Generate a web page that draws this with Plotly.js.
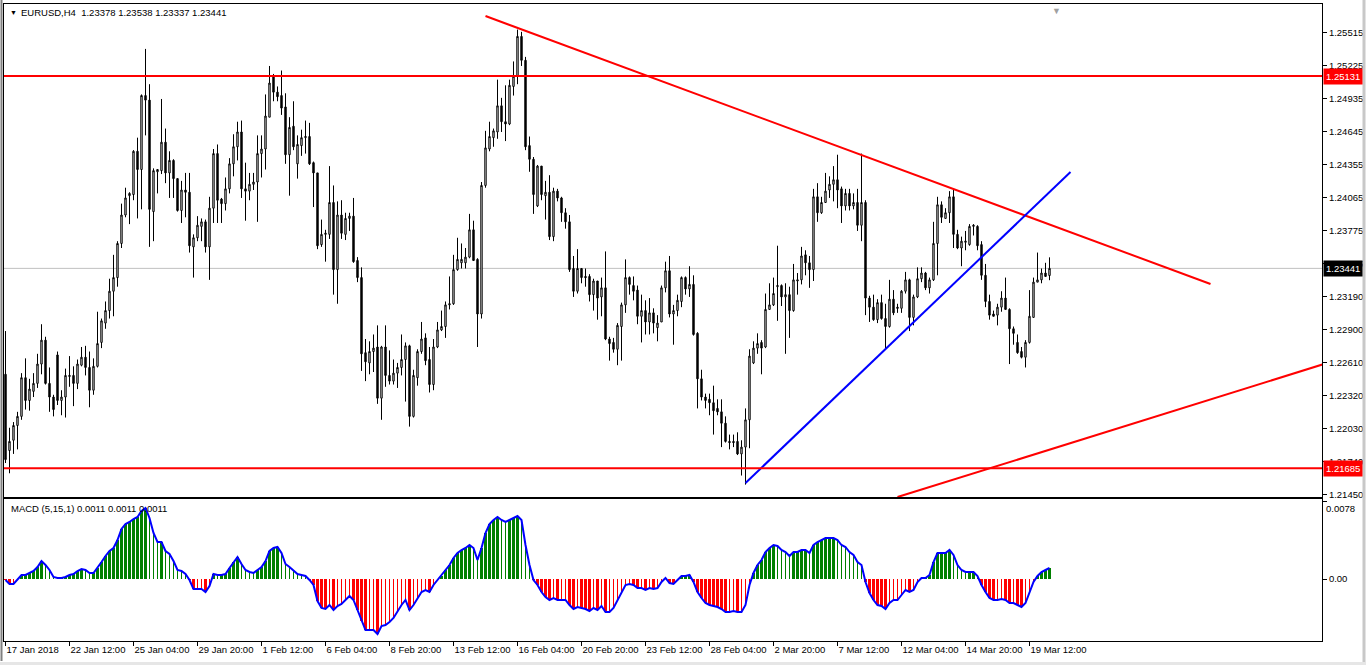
<!DOCTYPE html>
<html><head><meta charset="utf-8">
<script src="https://cdn.plot.ly/plotly-3.0.1.min.js"></script>
<style>html,body{margin:0;padding:0;background:#fff;overflow:hidden}#chart{width:1366px;height:665px}</style>
</head><body><div id="chart"></div>
<script>
const symbolTitle = "EURUSD,H4  1.23378 1.23538 1.23337 1.23441";
const macdTitle = "MACD (5,15,1) 0.0011 0.0011 0.0011";

const opens = [
1.2251,1.2184,1.2193,1.2206,1.2214,1.2248,1.2228,1.2236,1.2243,1.2260,
1.2281,1.2243,1.2231,1.2268,1.2228,1.2231,1.2249,1.2250,1.2243,1.2259,
1.2266,1.2257,1.2237,1.2258,1.2279,1.2296,1.2307,1.2324,1.2336,1.2366,
1.2391,1.2408,1.2409,1.2447,1.2431,1.2496,1.2492,1.2394,1.2429,1.2430,
1.2455,1.2428,1.2439,1.2423,1.2395,1.2413,1.2411,1.2363,1.2371,1.2381,
1.2385,1.2363,1.2397,1.2445,1.2405,1.2401,1.2414,1.2436,1.2451,1.2464,
1.2414,1.2412,1.2418,1.2420,1.2445,1.2449,1.2477,1.2513,1.2499,1.2496,
1.2486,1.2444,1.2469,1.2436,1.2452,1.2459,1.2460,1.2437,1.2428,1.2365,
1.2374,1.2374,1.2402,1.2343,1.2391,1.2374,1.2388,1.2390,1.2351,1.2336,
1.2270,1.2261,1.2271,1.2275,1.2230,1.2275,1.2250,1.2245,1.2252,1.2257,
1.2264,1.2276,1.2214,1.2248,1.2271,1.2283,1.2264,1.2242,1.2275,1.2290,
1.2293,1.2312,1.2313,1.2343,1.2349,1.2349,1.2354,1.2378,1.2352,1.2304,
1.2417,1.2449,1.2459,1.2464,1.2487,1.2473,1.2471,1.2504,1.2513,1.2548,
1.2527,1.2452,1.2440,1.2399,1.2434,1.2408,1.2411,1.2372,1.2412,1.2406,
1.2393,1.2385,1.2344,1.2324,1.2344,1.2337,1.2337,1.2321,1.2333,1.2319,
1.2327,1.2282,1.2279,1.2273,1.2293,1.2312,1.2336,1.2329,1.2325,1.2302,
1.2307,1.2297,1.2305,1.2292,1.2297,1.2327,1.2342,1.2304,1.2307,1.2315,
1.2336,1.2326,1.2330,1.2287,1.2247,1.2231,1.2229,1.2226,1.2221,1.2218,
1.2208,1.2192,1.2192,1.2192,1.2181,1.2187,1.2211,1.2261,1.2274,1.2279,
1.2275,1.2308,1.2312,1.2328,1.2329,1.2319,1.2321,1.2307,1.2333,1.2334,
1.2356,1.2349,1.2343,1.2407,1.2393,1.2402,1.2413,1.2418,1.2422,1.2414,
1.2399,1.2410,1.2399,1.2402,1.2382,1.2402,1.2318,1.2310,1.2299,1.2314,
1.2300,1.2293,1.2317,1.2310,1.2309,1.2324,1.2334,1.2301,1.2319,1.2335,
1.2340,1.2327,1.2334,1.2366,1.2400,1.2388,1.2393,1.2407,1.2374,1.2362,
1.2367,1.2365,1.2381,1.2381,1.2365,1.2338,1.2315,1.2304,1.2303,1.2310,
1.2318,1.2308,1.2291,1.2279,1.2271,1.2266,1.2279,1.2301,1.2332,1.2334,
1.2340,1.23378];
const highs = [
1.2289,1.2204,1.2209,1.2218,1.2252,1.2265,1.2247,1.2252,1.2269,1.2295,
1.2284,1.2257,1.2233,1.2271,1.2237,1.2256,1.2267,1.2258,1.2264,1.2275,
1.2276,1.2271,1.2265,1.2306,1.2300,1.2315,1.2335,1.2356,1.2368,1.2401,
1.2415,1.2411,1.2448,1.2459,1.2497,1.2537,1.2506,1.2432,1.2431,1.2493,
1.2467,1.2447,1.2440,1.2423,1.2421,1.2428,1.2428,1.2374,1.2390,1.2388,
1.2387,1.2407,1.2449,1.2453,1.2406,1.2424,1.2441,1.2462,1.2473,1.2474,
1.2437,1.2428,1.2428,1.2461,1.2461,1.2497,1.2522,1.2515,1.2504,1.2518,
1.2498,1.2477,1.2491,1.2461,1.2466,1.2474,1.2472,1.2438,1.2428,1.2387,
1.2378,1.2434,1.2417,1.2403,1.2404,1.2393,1.2393,1.2406,1.2354,1.2345,
1.2282,1.2280,1.2286,1.2294,1.2276,1.2294,1.2272,1.2264,1.2261,1.2286,
1.2279,1.2277,1.2255,1.2273,1.2297,1.2287,1.2275,1.2282,1.2297,1.2307,
1.2315,1.2337,1.2356,1.2371,1.2366,1.2362,1.2392,1.2386,1.2353,1.2420,
1.2465,1.2473,1.2467,1.2510,1.2494,1.2505,1.2510,1.2526,1.2554,1.2552,
1.2530,1.2460,1.2442,1.2435,1.2434,1.2421,1.2426,1.2415,1.2414,1.2407,
1.2397,1.2391,1.2355,1.2361,1.2344,1.2344,1.2339,1.2335,1.2333,1.2336,
1.2359,1.2284,1.2283,1.2296,1.2314,1.2352,1.2337,1.2337,1.2329,1.2321,
1.2316,1.2318,1.2309,1.2303,1.2329,1.2350,1.2355,1.2312,1.2321,1.2337,
1.2337,1.2346,1.2338,1.2288,1.2255,1.2234,1.2234,1.2241,1.2229,1.2229,
1.2214,1.2198,1.2198,1.2200,1.2193,1.2221,1.2273,1.2280,1.2287,1.2281,
1.2322,1.2331,1.2336,1.2364,1.2330,1.2331,1.2328,1.2348,1.2340,1.2363,
1.2360,1.2355,1.2414,1.2419,1.2407,1.2428,1.2425,1.2434,1.2444,1.2416,
1.2414,1.2414,1.2410,1.2414,1.2445,1.2404,1.2320,1.2321,1.2317,1.2321,
1.2313,1.2334,1.2325,1.2313,1.2325,1.2341,1.2335,1.2321,1.2345,1.2345,
1.2341,1.2336,1.2385,1.2407,1.2403,1.2397,1.2412,1.2414,1.2378,1.2372,
1.2377,1.2383,1.2383,1.2382,1.2368,1.2348,1.2321,1.2307,1.2313,1.2324,
1.2336,1.2309,1.2293,1.2286,1.2275,1.2281,1.2325,1.2336,1.2358,1.2344,
1.2349,1.23538];
const lows = [
1.2173,1.2164,1.2181,1.2185,1.2211,1.2220,1.2219,1.2231,1.2239,1.2251,
1.2242,1.2218,1.2214,1.2224,1.2215,1.2213,1.2240,1.2223,1.2238,1.2258,
1.2250,1.2222,1.2233,1.2257,1.2274,1.2291,1.2300,1.2302,1.2328,1.2362,
1.2389,1.2383,1.2404,1.2388,1.2396,1.2461,1.2363,1.2368,1.2410,1.2427,
1.2419,1.2406,1.2406,1.2394,1.2384,1.2389,1.2358,1.2336,1.2368,1.2368,
1.2358,1.2334,1.2384,1.2384,1.2384,1.2395,1.2410,1.2425,1.2439,1.2406,
1.2386,1.2404,1.2413,1.2385,1.2424,1.2431,1.2477,1.2491,1.2491,1.2479,
1.2436,1.2408,1.2448,1.2423,1.2443,1.2445,1.2435,1.2398,1.2361,1.2363,
1.2350,1.2370,1.2321,1.2313,1.2370,1.2369,1.2377,1.2349,1.2332,1.2254,
1.2245,1.2251,1.2253,1.2225,1.2211,1.2240,1.2242,1.2242,1.2239,1.2250,
1.2227,1.2205,1.2213,1.2241,1.2269,1.2259,1.2235,1.2237,1.2274,1.2289,
1.2283,1.2308,1.2312,1.2342,1.2344,1.2344,1.2353,1.2351,1.2275,1.2300,
1.2415,1.2447,1.2451,1.2458,1.2464,1.2456,1.2470,1.2496,1.2506,1.2522,
1.2448,1.2429,1.2392,1.2398,1.2404,1.2387,1.2369,1.2368,1.2403,1.2385,
1.2379,1.2341,1.2319,1.2322,1.2331,1.2328,1.2315,1.2307,1.2299,1.2302,
1.2281,1.2263,1.2270,1.2259,1.2263,1.2305,1.2321,1.2316,1.2295,1.2279,
1.2286,1.2286,1.2287,1.2280,1.2297,1.2323,1.2301,1.2277,1.2302,1.2310,
1.2321,1.2319,1.2285,1.2221,1.2228,1.2221,1.2215,1.2198,1.2215,1.2187,
1.2191,1.2185,1.2187,1.2180,1.2162,1.2154,1.2186,1.2260,1.2269,1.2251,
1.2274,1.2308,1.2311,1.2298,1.2311,1.2269,1.2283,1.2306,1.2321,1.2330,
1.2338,1.2327,1.2333,1.2385,1.2392,1.2402,1.2406,1.2403,1.2397,1.2384,
1.2395,1.2395,1.2396,1.2377,1.2368,1.2303,1.2297,1.2298,1.2296,1.2299,
1.2274,1.2292,1.2303,1.2305,1.2305,1.2322,1.2289,1.2294,1.2318,1.2332,
1.2325,1.2322,1.2333,1.2338,1.2384,1.2388,1.2384,1.2362,1.2361,1.2346,
1.2360,1.2364,1.2373,1.2360,1.2334,1.2310,1.2299,1.2302,1.2294,1.2306,
1.2308,1.2260,1.2277,1.2269,1.2265,1.2257,1.2278,1.2301,1.2332,1.2331,
1.2337,1.23337];
const closes = [
1.2176,1.2192,1.2206,1.2214,1.2248,1.2228,1.2238,1.2243,1.2260,1.2281,
1.2243,1.2231,1.2220,1.2228,1.2231,1.2250,1.2250,1.2243,1.2260,1.2266,
1.2257,1.2237,1.2258,1.2278,1.2298,1.2307,1.2324,1.2336,1.2366,1.2391,
1.2406,1.2410,1.2447,1.2431,1.2496,1.2492,1.2396,1.2430,1.2431,1.2455,
1.2428,1.2439,1.2423,1.2395,1.2413,1.2411,1.2364,1.2371,1.2382,1.2385,
1.2363,1.2397,1.2445,1.2404,1.2401,1.2414,1.2436,1.2451,1.2464,1.2414,
1.2412,1.2418,1.2420,1.2445,1.2449,1.2478,1.2507,1.2499,1.2495,1.2485,
1.2444,1.2468,1.2451,1.2453,1.2459,1.2460,1.2436,1.2428,1.2364,1.2374,
1.2375,1.2402,1.2343,1.2391,1.2375,1.2388,1.2390,1.2350,1.2336,1.2269,
1.2262,1.2271,1.2274,1.2230,1.2275,1.2250,1.2245,1.2252,1.2257,1.2264,
1.2276,1.2214,1.2250,1.2271,1.2282,1.2263,1.2242,1.2275,1.2290,1.2293,
1.2312,1.2313,1.2343,1.2352,1.2352,1.2354,1.2378,1.2351,1.2304,1.2417,
1.2450,1.2460,1.2465,1.2487,1.2473,1.2471,1.2505,1.2513,1.2548,1.2527,
1.2451,1.2440,1.2409,1.2434,1.2409,1.2411,1.2372,1.2412,1.2406,1.2393,
1.2385,1.2343,1.2324,1.2344,1.2336,1.2336,1.2321,1.2333,1.2318,1.2327,
1.2282,1.2278,1.2273,1.2294,1.2312,1.2336,1.2330,1.2324,1.2302,1.2307,
1.2297,1.2305,1.2296,1.2296,1.2327,1.2342,1.2304,1.2307,1.2316,1.2336,
1.2326,1.2330,1.2286,1.2247,1.2231,1.2228,1.2226,1.2219,1.2218,1.2208,
1.2192,1.2191,1.2191,1.2181,1.2187,1.2211,1.2267,1.2274,1.2278,1.2274,
1.2308,1.2312,1.2322,1.2329,1.2319,1.2321,1.2307,1.2334,1.2334,1.2355,
1.2349,1.2343,1.2407,1.2393,1.2402,1.2412,1.2418,1.2422,1.2413,1.2399,
1.2410,1.2399,1.2402,1.2382,1.2402,1.2318,1.2310,1.2299,1.2314,1.2300,
1.2293,1.2317,1.2305,1.2309,1.2324,1.2334,1.2301,1.2319,1.2335,1.2340,
1.2327,1.2334,1.2366,1.2400,1.2389,1.2393,1.2407,1.2374,1.2362,1.2368,
1.2368,1.2381,1.2382,1.2364,1.2338,1.2315,1.2303,1.2302,1.2310,1.2318,
1.2308,1.2291,1.2287,1.2270,1.2266,1.2279,1.2302,1.2332,1.2334,1.2340,
1.2337,1.23441];
const macd = [
-0.0001,-0.0005,-0.0005,-0.0001,0.0004,0.0004,0.0006,0.0008,0.0012,0.0018,
0.0014,0.0009,0.0002,0.0001,0.0001,0.0002,0.0004,0.0005,0.0008,0.0010,
0.0009,0.0006,0.0006,0.0011,0.0017,0.0023,0.0028,0.0031,0.0039,0.0050,
0.0055,0.0057,0.0060,0.0062,0.0068,0.0071,0.0061,0.0046,0.0037,0.0037,
0.0028,0.0025,0.0018,0.0009,0.0008,0.0005,-0.0001,-0.0010,-0.0010,-0.0010,
-0.0013,-0.0007,0.0005,0.0004,0.0004,0.0005,0.0011,0.0017,0.0022,0.0015,
0.0009,0.0007,0.0006,0.0009,0.0012,0.0018,0.0028,0.0031,0.0032,0.0026,
0.0015,0.0012,0.0008,0.0005,0.0004,0.0003,-0.0001,-0.0006,-0.0022,-0.0029,
-0.0030,-0.0026,-0.0031,-0.0027,-0.0025,-0.0021,-0.0017,-0.0021,-0.0031,-0.0042,
-0.0051,-0.0051,-0.0051,-0.0055,-0.0047,-0.0046,-0.0043,-0.0039,-0.0032,-0.0026,
-0.0021,-0.0031,-0.0026,-0.0019,-0.0013,-0.0011,-0.0013,-0.0006,-0.0001,0.0003,
0.0009,0.0014,0.0021,0.0026,0.0029,0.0031,0.0034,0.0031,0.0019,0.0031,
0.0046,0.0055,0.0059,0.0062,0.0059,0.0057,0.0059,0.0061,0.0063,0.0059,
0.0034,0.0014,-0.0001,-0.0006,-0.0013,-0.0018,-0.0021,-0.0019,-0.0021,-0.0021,
-0.0021,-0.0026,-0.0030,-0.0028,-0.0029,-0.0030,-0.0032,-0.0029,-0.0031,-0.0027,
-0.0033,-0.0033,-0.0029,-0.0021,-0.0013,-0.0006,-0.0005,-0.0006,-0.0009,-0.0009,
-0.0011,-0.0009,-0.0010,-0.0009,-0.0003,0.0001,-0.0004,-0.0005,-0.0001,0.0003,
0.0003,0.0004,-0.0003,-0.0013,-0.0019,-0.0024,-0.0026,-0.0027,-0.0028,-0.0030,
-0.0033,-0.0033,-0.0032,-0.0033,-0.0033,-0.0026,-0.0006,0.0006,0.0014,0.0019,
0.0027,0.0031,0.0034,0.0033,0.0029,0.0027,0.0023,0.0027,0.0027,0.0029,
0.0029,0.0026,0.0034,0.0037,0.0039,0.0041,0.0041,0.0041,0.0039,0.0034,
0.0032,0.0027,0.0024,0.0017,0.0014,-0.0003,-0.0014,-0.0021,-0.0026,-0.0027,
-0.0030,-0.0024,-0.0021,-0.0021,-0.0016,-0.0011,-0.0013,-0.0011,-0.0003,0.0001,
0.0001,0.0004,0.0017,0.0026,0.0026,0.0026,0.0029,0.0024,0.0014,0.0009,
0.0007,0.0007,0.0007,0.0003,-0.0006,-0.0013,-0.0019,-0.0021,-0.0021,-0.0020,
-0.0021,-0.0024,-0.0024,-0.0026,-0.0028,-0.0024,-0.0013,-0.0003,0.0003,0.0007,
0.0009,0.0011];

const tickBars = [0,16,32,48,64,80,96,112,128,144,160,176,192,208,224,240,256];
const tickLabels = ["17 Jan 2018","22 Jan 12:00","25 Jan 04:00","29 Jan 20:00","1 Feb 12:00","6 Feb 04:00","8 Feb 20:00","13 Feb 12:00","16 Feb 04:00","20 Feb 20:00","23 Feb 12:00","28 Feb 04:00","2 Mar 20:00","7 Mar 12:00","12 Mar 04:00","14 Mar 20:00","19 Mar 12:00"];
const priceTicks = [1.25515,1.25225,1.24935,1.24645,1.24355,1.24065,1.23775,1.23485,1.23190,1.22900,1.22610,1.22320,1.22030,1.21740,1.21450];
const priceTickText = ["1.25515","1.25225","1.24935","1.24645","1.24355","1.24065","1.23775","1.23485","1.23190","1.22900","1.22610","1.22320","1.22030","1.21740","1.21450"];
const macdScale = [0.0078, 0, -0.0063];
const macdScaleText = ["0.0078", "0.00", "-0.0063"];
const levelHigh = 1.25131, levelLow = 1.21685, lastPrice = 1.23441;
const trendDownX = [120, 301.25], trendDownY = [1.25659, 1.23304];
const trendUpX = [185, 266.25], trendUpY = [1.21554, 1.24288];
const trendLowX = [223, 340], trendLowY = [1.21431, 1.22714];

// geometry
const FW = 1366, FH = 665, PL = 4, PR = 1322, PT = 4, PB = 641;
const PW = PR - PL, PH = PB - PT;
const px = v => (v - PL) / PW;
const py = v => (PB - v) / PH;
const xr = [-0.375, -0.375 + PW / 4];

const idx = opens.map((_, i) => i);
const barColor = [], barWidth = [];
macd.forEach((v, i) => {
  const prev = i ? macd[i - 1] : 0;
  const up = v >= prev;
  const thick = v >= 0 ? up : !up;
  barColor.push(v >= 0 ? '#008000' : '#ff0000');
  barWidth.push(thick ? 0.75 : 0.25);
});

const FONT = 'Liberation Sans, Arial, sans-serif';
const traces = [
  {type: 'candlestick', x: idx, open: opens, high: highs, low: lows, close: closes,
   xaxis: 'x', yaxis: 'y', whiskerwidth: 0, hoverinfo: 'skip',
   increasing: {line: {color: '#000', width: 1}, fillcolor: '#fff'},
   decreasing: {line: {color: '#000', width: 1}, fillcolor: '#000'}},
  {type: 'scatter', mode: 'lines', x: trendDownX, y: trendDownY, xaxis: 'x', yaxis: 'y', line: {color: '#ff0000', width: 2}, hoverinfo: 'skip'},
  {type: 'scatter', mode: 'lines', x: trendUpX, y: trendUpY, xaxis: 'x', yaxis: 'y', line: {color: '#0000ff', width: 2}, hoverinfo: 'skip'},
  {type: 'scatter', mode: 'lines', x: trendLowX, y: trendLowY, xaxis: 'x', yaxis: 'y', line: {color: '#ff0000', width: 2}, hoverinfo: 'skip'},
  {type: 'bar', x: idx, y: macd, width: barWidth, marker: {color: barColor, line: {width: 0}}, xaxis: 'x2', yaxis: 'y2', hoverinfo: 'skip'},
  {type: 'scatter', mode: 'lines', x: idx, y: macd, xaxis: 'x2', yaxis: 'y2', line: {color: '#0000ff', width: 2}, hoverinfo: 'skip'}
];

const axBase = {showgrid: false, zeroline: false, showline: true, mirror: true, linecolor: '#000', linewidth: 1, fixedrange: true, automargin: false};
const layout = {
  width: FW, height: FH, margin: {l: PL, r: FW - PR, t: PT, b: FH - PB, pad: 0},
  paper_bgcolor: '#fff', plot_bgcolor: '#fff', showlegend: false, boxgap: 0.5, bargap: 0,
  font: {family: FONT, size: 9.5, color: '#000'},
  xaxis: Object.assign({}, axBase, {domain: [0, 1], anchor: 'y', range: xr, showticklabels: false, ticks: '', rangeslider: {visible: false}, type: 'linear'}),
  yaxis: Object.assign({}, axBase, {domain: [py(497), 1], anchor: 'x', side: 'right', range: [1.2580 - 0.0000879 * 497, 1.2580 - 0.0000879 * 4],
    tickvals: priceTicks, ticktext: priceTickText, ticks: 'outside', ticklen: 4, tickcolor: '#000', tickfont: {family: FONT, size: 9.5}}),
  xaxis2: Object.assign({}, axBase, {domain: [0, 1], anchor: 'y2', range: xr, type: 'linear', tickvals: tickBars, ticktext: tickLabels,
    tickangle: 0, ticks: 'outside', ticklen: 4, tickcolor: '#000', ticklabelposition: 'outside right', tickfont: {family: FONT, size: 9.5}}),
  yaxis2: Object.assign({}, axBase, {domain: [0, py(499)], anchor: 'x2', side: 'right', range: [-0.0062, 0.0080],
    tickvals: macdScale, ticktext: ['', '0.00', ''], ticks: 'outside', ticklen: 4, tickcolor: '#000', tickfont: {family: FONT, size: 9.5}}),
  shapes: [
    {type: 'line', xref: 'paper', yref: 'y', x0: 0, x1: 1, y0: lastPrice, y1: lastPrice, line: {color: '#c0c0c0', width: 1}, layer: 'below'},
    {type: 'line', xref: 'paper', yref: 'y', x0: 0, x1: 1, y0: levelHigh, y1: levelHigh, line: {color: '#ff0000', width: 2}, layer: 'above'},
    {type: 'line', xref: 'paper', yref: 'y', x0: 0, x1: 1, y0: levelLow, y1: levelLow, line: {color: '#ff0000', width: 2}, layer: 'above'},
    {type: 'line', xref: 'paper', yref: 'paper', x0: px(1.5), x1: px(1.5), y0: py(0), y1: py(661), line: {color: '#808080', width: 2}},
    {type: 'line', xref: 'paper', yref: 'paper', x0: px(1364), x1: px(1364), y0: py(0), y1: py(665), line: {color: '#c8c8c8', width: 3}},
    {type: 'rect', xref: 'paper', yref: 'paper', x0: px(0), x1: px(1366), y0: py(662), y1: py(665), fillcolor: '#e6e6e6', line: {width: 0}}
  ],
  annotations: [
    {xref: 'paper', yref: 'paper', x: px(8), y: py(13), xanchor: 'left', yanchor: 'middle', showarrow: false, text: '▼', font: {family: FONT, size: 7, color: '#000'}},
    {xref: 'paper', yref: 'paper', x: px(19), y: py(13), xanchor: 'left', yanchor: 'middle', showarrow: false, text: symbolTitle, font: {family: FONT, size: 9.5, color: '#000'}},
    {xref: 'paper', yref: 'paper', x: px(9), y: py(508), xanchor: 'left', yanchor: 'middle', showarrow: false, text: macdTitle, font: {family: FONT, size: 9.5, color: '#000'}},
    {xref: 'paper', yref: 'y2', x: 1, y: macdScale[0], xanchor: 'left', yanchor: 'top', xshift: 2, showarrow: false, text: macdScaleText[0], font: {family: FONT, size: 9.5, color: '#000'}},
    {xref: 'paper', yref: 'y2', x: 1, y: macdScale[2], xanchor: 'left', yanchor: 'bottom', xshift: 2, showarrow: false, text: macdScaleText[2], font: {family: FONT, size: 9.5, color: '#000'}},
    {xref: 'paper', yref: 'y', x: 1, y: levelHigh, xanchor: 'left', yanchor: 'middle', xshift: 1, showarrow: false, text: levelHigh.toFixed(5), bgcolor: '#ff0000', borderpad: 2, font: {family: FONT, size: 9.5, color: '#fff'}},
    {xref: 'paper', yref: 'y', x: 1, y: levelLow, xanchor: 'left', yanchor: 'middle', xshift: 1, showarrow: false, text: levelLow.toFixed(5), bgcolor: '#ff0000', borderpad: 2, font: {family: FONT, size: 9.5, color: '#fff'}},
    {xref: 'paper', yref: 'y', x: 1, y: lastPrice, xanchor: 'left', yanchor: 'middle', xshift: 1, showarrow: false, text: lastPrice.toFixed(5), bgcolor: '#000', borderpad: 2, font: {family: FONT, size: 9.5, color: '#fff'}},
    {xref: 'x', yref: 'paper', x: 262.75, y: 1, xanchor: 'center', yanchor: 'top', showarrow: false, text: '▼', font: {family: FONT, size: 9, color: '#a0a0a0'}}
  ]
};
Plotly.newPlot('chart', traces, layout, {staticPlot: true, displayModeBar: false});
</script>
</body></html>
